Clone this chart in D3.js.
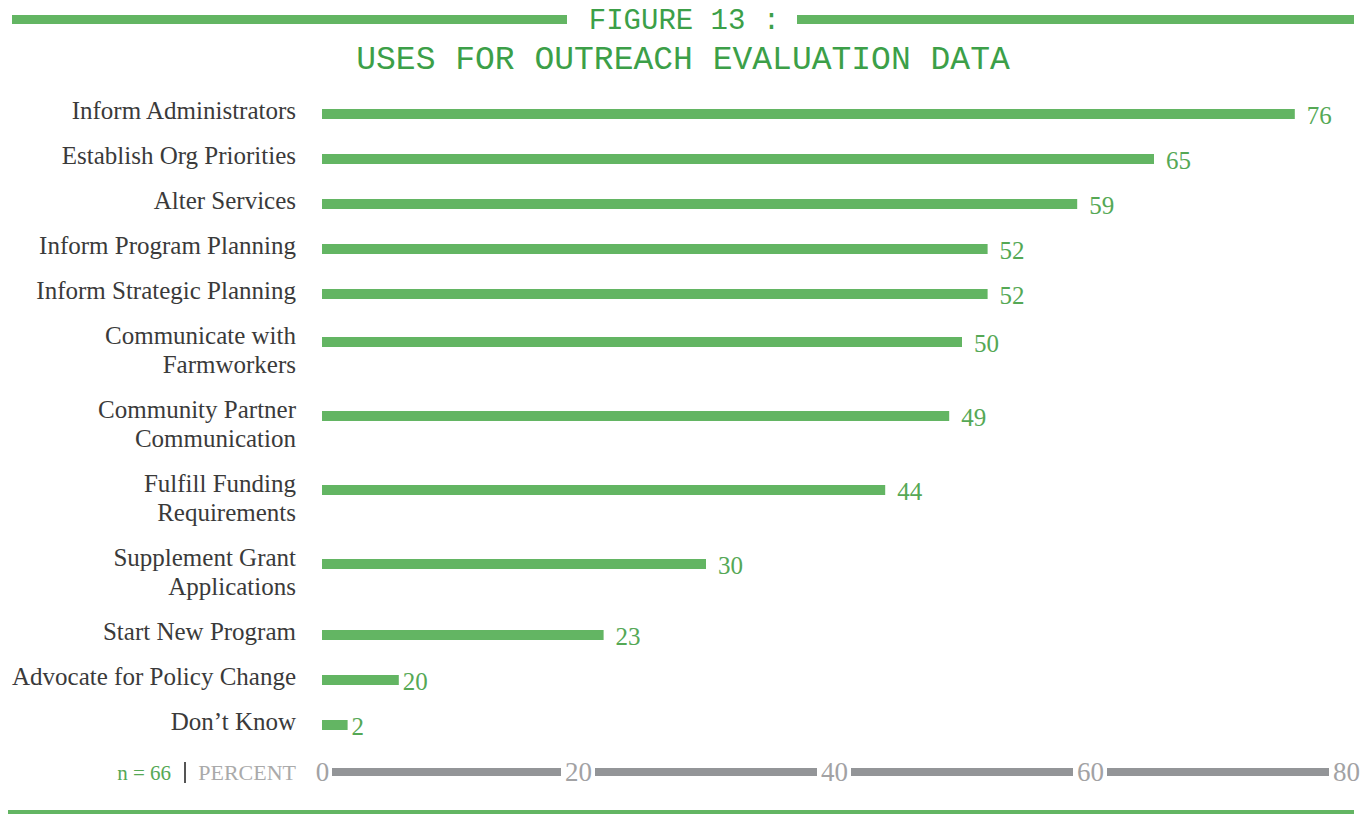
<!DOCTYPE html>
<html>
<head>
<meta charset="utf-8">
<script src="https://cdn.jsdelivr.net/npm/d3@7"></script>
<style>
  html, body { margin: 0; padding: 0; background: #fff; }
  svg { display: block; }
</style>
</head>
<body>
<svg id="chart" width="1369" height="814"></svg>
<script>
// ---- data ----
const categories = [
  ["Inform Administrators"],
  ["Establish Org Priorities"],
  ["Alter Services"],
  ["Inform Program Planning"],
  ["Inform Strategic Planning"],
  ["Communicate with", "Farmworkers"],
  ["Community Partner", "Communication"],
  ["Fulfill Funding", "Requirements"],
  ["Supplement Grant", "Applications"],
  ["Start New Program"],
  ["Advocate for Policy Change"],
  ["Don\u2019t Know"]
];
// printed values (percent)
const values = [76, 65, 59, 52, 52, 50, 49, 44, 30, 23, 20, 2];
// bar lengths as drawn in the reference (the 20% bar is drawn short there)
const drawnValues = [76, 65, 59, 52, 52, 50, 49, 44, 30, 22, 6, 2];
const tickValues = [0, 20, 40, 60, 80];
const sampleNote = "n = 66";
const axisTitle = "PERCENT";
const titleLine1 = "FIGURE 13 :";
const titleLine2 = "USES FOR OUTREACH EVALUATION DATA";

// ---- style ----
const W = 1369, H = 814;
const green = "#63b563";
const textGreen = "#55a855";
const titleGreen = "#3c9f48";
const gray = "#939598";
const serif = "'Liberation Serif', 'DejaVu Serif', serif";
const mono = "'Liberation Mono', 'Courier New', monospace";

const svg = d3.select("#chart");

// ---- scales ----
const x = d3.scaleLinear().domain([0, 80]).range([322, 1346]);

// vertical layout: each row takes one unit plus an extra for a second text line
const rowUnit = 45, extraLine = 29;
const offsets = [];
let acc = 0;
categories.forEach((c, i) => { offsets.push(acc); acc += rowUnit + (c.length - 1) * extraLine; });
const lastOffset = offsets[offsets.length - 1];
const y = d3.scaleLinear().domain([0, lastOffset]).range([111, 111 + lastOffset]);

// ---- title ----
svg.append("text")
  .attr("x", W / 2).attr("y", 29)
  .attr("text-anchor", "middle")
  .attr("font-family", mono).attr("font-size", 29)
  .attr("fill", titleGreen)
  .text(titleLine1);
svg.append("rect").attr("x", 12).attr("y", 15).attr("width", 555).attr("height", 9).attr("fill", green);
svg.append("rect").attr("x", 797).attr("y", 15).attr("width", 557).attr("height", 9).attr("fill", green);
svg.append("text")
  .attr("x", 683).attr("y", 69)
  .attr("text-anchor", "middle")
  .attr("font-family", mono).attr("font-size", 33)
  .attr("fill", titleGreen)
  .text(titleLine2);

// ---- rows ----
const rows = svg.append("g").selectAll("g.row")
  .data(categories.map((c, i) => ({ lines: c, v: values[i], d: drawnValues[i], off: offsets[i] })))
  .join("g").attr("class", "row");

rows.append("text")
  .attr("text-anchor", "end")
  .attr("font-family", serif).attr("font-size", 25)
  .attr("fill", "#3a3a3a")
  .selectAll("tspan")
  .data(d => d.lines.map((l, j) => ({ l, j, off: d.off })))
  .join("tspan")
  .attr("x", 296)
  .attr("y", t => y(t.off) + 8 + t.j * extraLine)
  .text(t => t.l);

rows.append("rect")
  .attr("x", x(0))
  .attr("y", d => y(d.off) + (d.lines.length > 1 ? 6 : 3) - 5)
  .attr("width", d => x(d.d) - x(0))
  .attr("height", 10)
  .attr("fill", green);

rows.append("text")
  .attr("x", d => x(d.d) + (d.d < 10 ? 4 : 12))
  .attr("y", d => y(d.off) + (d.lines.length > 1 ? 16 : 13))
  .attr("font-family", serif).attr("font-size", 25)
  .attr("fill", textGreen)
  .text(d => d.v);

// ---- axis ----
const axisY = 772;
const axisG = svg.append("g").attr("transform", `translate(0,${axisY})`);
const axis = d3.axisBottom(x).tickValues(tickValues).tickSize(0).tickPadding(0);
axisG.call(axis);
axisG.select(".domain").remove();
axisG.selectAll(".tick text")
  .attr("font-family", serif).attr("font-size", 27)
  .attr("fill", "#a2a2a4")
  .attr("dy", "0.34em")
  .attr("y", 0);
// gray segments between tick labels
const segs = d3.pairs(tickValues);
axisG.selectAll("rect.seg").data(segs).join("rect")
  .attr("class", "seg")
  .attr("x", d => x(d[0]) + (d[0] === 0 ? 10 : 17))
  .attr("width", d => x(d[1]) - x(d[0]) - (d[0] === 0 ? 10 : 17) - 17)
  .attr("y", -4).attr("height", 8)
  .attr("fill", gray);

svg.append("text")
  .attr("x", 296).attr("y", axisY + 8)
  .attr("text-anchor", "end")
  .attr("font-family", serif).attr("font-size", 22)
  .attr("fill", "#aaaaaa")
  .text(axisTitle);
svg.append("rect").attr("x", 184).attr("y", axisY - 10).attr("width", 2).attr("height", 21).attr("fill", "#555");
svg.append("text")
  .attr("x", 171).attr("y", axisY + 8)
  .attr("text-anchor", "end")
  .attr("font-family", serif).attr("font-size", 21)
  .attr("fill", textGreen)
  .text(sampleNote);

// bottom rule
svg.append("rect").attr("x", 8).attr("y", 810).attr("width", 1346).attr("height", 4).attr("fill", green);
</script>
</body>
</html>
